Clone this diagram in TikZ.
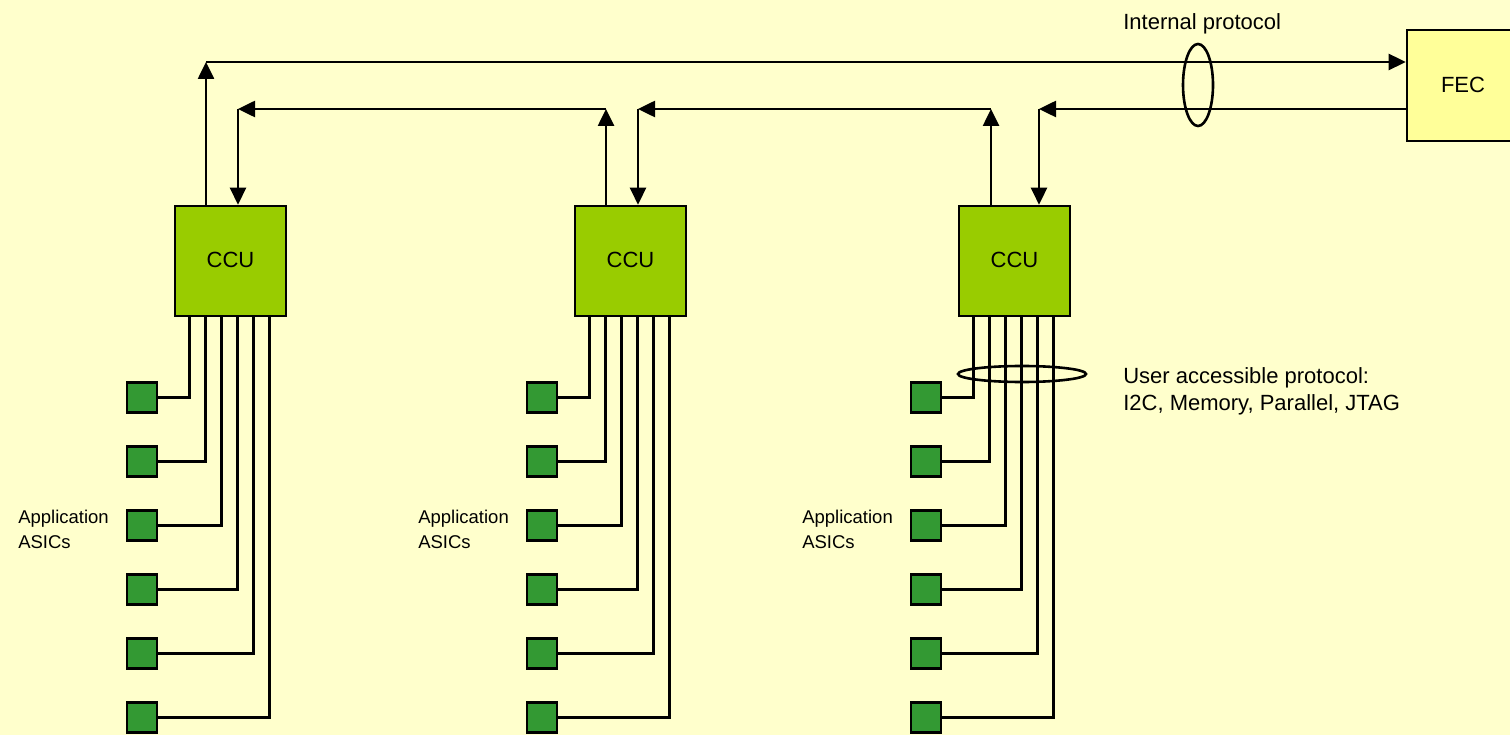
\documentclass[tikz,border=0pt]{standalone}
\usepackage{fontspec}
\setmainfont{Liberation Sans}
\usetikzlibrary{arrows.meta,calc}
\definecolor{bg}{HTML}{FFFFCC}
\definecolor{ccugreen}{HTML}{99CC00}
\definecolor{asicgreen}{HTML}{339933}
\definecolor{fecyellow}{HTML}{FFFF99}
\begin{document}
\begin{tikzpicture}[x=1pt,y=-1pt, line width=2.6pt,
  ccubox/.style={draw, fill=ccugreen, minimum width=111pt, minimum height=110pt, inner sep=0pt, font=\fontsize{22}{26}\selectfont},
  fecbox/.style={draw, fill=fecyellow, minimum width=112pt, minimum height=111pt, inner sep=0pt, font=\fontsize{22}{26}\selectfont},
  asic/.style={draw, fill=asicgreen, minimum size=30pt, inner sep=0pt},
  arr/.style={-{Triangle[length=17pt,width=16pt]}},
  lbl/.style={font=\fontsize{22}{27.5}\selectfont, align=left, inner sep=0pt},
  small/.style={font=\fontsize{18.5}{25}\selectfont, align=left, inner sep=0pt}
]
\clip (0,0) rectangle (1510,735);
\fill[bg] (0,0) rectangle (1510,735);

% CCUs and FEC
\node[ccubox] (ccu1) at (230.5,261) {\raisebox{2pt}{CCU}};
\node[ccubox] (ccu2) at (630.5,261) {\raisebox{2pt}{CCU}};
\node[ccubox] (ccu3) at (1014.5,261) {\raisebox{2pt}{CCU}};
\node[fecbox] (fec) at (1463,85.5) {\raisebox{2pt}{FEC}};

% ASICs and wires
\foreach \c/\dx in {1/0,2/400,3/784}{
  \foreach \r in {1,...,6}{
    \node[asic] (a\c\r) at ({142+\dx},{397.5+64*(\r-1)}) {};
    \draw (a\c\r.east) -| ([xshift={16*\r}]ccu\c.south west);
  }
}

% ring connections
\coordinate (k1) at (206,62);
\coordinate (d1) at (238,109);
\coordinate (k2) at (606,109);
\coordinate (d2) at (638,109);
\coordinate (k3) at (991,109);
\coordinate (d3) at (1039,109);
\draw[arr] (ccu1.north -| k1) -- (k1);
\draw[arr] (k1) -- (k1 -| fec.west);
\draw[arr] (d1) -- (ccu1.north -| d1);
\draw[arr] (ccu2.north -| k2) -- (k2);
\draw[arr] (k2) -- (d1);
\draw[arr] (d2) -- (ccu2.north -| d2);
\draw[arr] (ccu3.north -| k3) -- (k3);
\draw[arr] (k3) -- (d2);
\draw[arr] (d3) -- (ccu3.north -| d3);
\draw[arr] (fec.west |- d3) -- (d3);

% protocol rings
\draw (1198,85) ellipse [x radius=15pt, y radius=41pt];
\draw (1022,374) ellipse [x radius=64pt, y radius=8pt];

% labels
\node[lbl, anchor=base west] (ip) at (1122,30) {Internal protocol};
\node[lbl, anchor=north west] (uap) at (1122,366) {User accessible protocol:\\I2C, Memory, Parallel, JTAG};
\node[small, anchor=north west] (l1) at (17,509) {Application\\ASICs};
\node[small, anchor=north west] (l2) at (417,509) {Application\\ASICs};
\node[small, anchor=north west] (l3) at (801,509) {Application\\ASICs};
\end{tikzpicture}
\end{document}
